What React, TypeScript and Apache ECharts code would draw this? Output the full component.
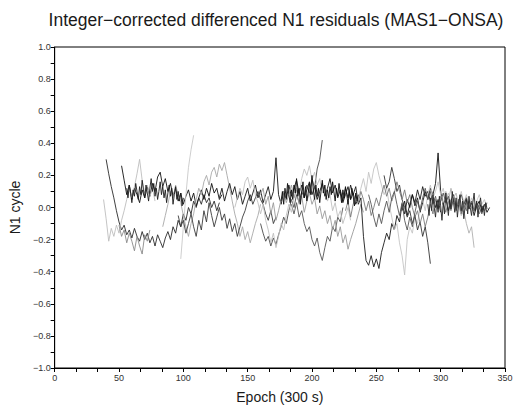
import React, { useEffect, useRef } from "react";
import * as echarts from "echarts";

// ---- Data ----
const xTicks = [0, 50, 100, 150, 200, 250, 300, 350];
const yTicks = [-1.0, -0.8, -0.6, -0.4, -0.2, 0.0, 0.2, 0.4, 0.6, 0.8, 1.0];

const arcAStart = 40;
const arcA = [0.30, 0.21, 0.13, 0.06, -0.02, -0.09, -0.14, -0.11, -0.17, -0.14, -0.19, -0.13, -0.18, -0.21, -0.15, -0.20, -0.16, -0.22, -0.18, -0.24, -0.17, -0.21, -0.25, -0.19, -0.15, -0.20, -0.12, -0.16, -0.08, -0.12, -0.04, -0.08, 0.00, -0.04, 0.04, 0.00, 0.06, 0.02, 0.08, 0.03, 0.06, 0.00, 0.04, -0.02, 0.03];
const arcBStart = 52;
const arcB = [0.26, 0.17, 0.08, 0.14, 0.05, 0.12, 0.08, 0.03, 0.11, 0.06, 0.13, 0.07, 0.15, 0.10, 0.19, 0.22, 0.13, 0.18, 0.10, 0.15, 0.07, 0.12, 0.04, 0.09, 0.02, 0.07, 0.11, 0.04, 0.09, 0.01, 0.06, 0.11, 0.05, 0.12, 0.07, 0.15, 0.09, 0.12, 0.05, 0.08];
const arcCStart = 38;
const arcC = [0.05, -0.07, -0.21, -0.13, -0.18, -0.11, -0.16, -0.08, -0.02, 0.05, 0.11, 0.06, 0.13, 0.21, 0.30, 0.17, 0.09, 0.14, 0.07, 0.12, 0.04];
const arcDStart = 50;
const arcD = [-0.11, -0.18, -0.14, -0.22, -0.16, -0.21, -0.27, -0.18, -0.24, -0.29, -0.17, -0.21, -0.14];
const arcEStart = 98;
const arcE = [-0.32, -0.12, 0.08, 0.25, 0.36, 0.45];
const arcFStart = 84;
const arcF = [-0.12, -0.05, 0.02, 0.10, 0.06, 0.14, 0.08, 0.03, -0.05, -0.12, -0.18, -0.10, -0.04, 0.05, 0.12, 0.08, 0.16, 0.20, 0.14, 0.22, 0.25, 0.19, 0.27, 0.23, 0.28, 0.20, 0.12, 0.04, -0.04, -0.10, -0.18, -0.12, -0.20, -0.15, -0.22, -0.16, -0.10, -0.05, 0.02];
const arcGStart = 96;
const arcG = [-0.05, -0.12, -0.08, -0.16, -0.10, -0.04, -0.12, -0.18, -0.08, -0.14, -0.02, -0.09, 0.03, -0.05, -0.12, -0.06, 0.00, -0.08, -0.04, -0.13, -0.07, -0.15, -0.10, -0.18, -0.12, -0.06, -0.02, 0.04, 0.08, 0.02, 0.06, 0.10, 0.05, 0.02, -0.04, -0.08, -0.02, -0.10, -0.06];
const arcHStart = 128;
const arcH = [0.06, 0.12, 0.04, 0.10, 0.15, 0.08, 0.13, 0.05, 0.10, 0.02, 0.07, 0.12, 0.04, 0.09, 0.14, 0.06, 0.11, 0.03, 0.08, 0.13, 0.05, 0.10, 0.31, 0.08, 0.02, 0.10, 0.05, 0.14, 0.07, 0.12, 0.17, 0.09, 0.14, 0.06, 0.11, 0.16, 0.08, 0.13, 0.05, 0.10, 0.15, 0.07, 0.12, 0.18, 0.09, 0.14, 0.06, 0.11, 0.03, 0.08, 0.13, 0.05, 0.09, 0.02, 0.06];
const arcIStart = 160;
const arcI = [-0.10, -0.16, -0.21, -0.18, -0.24, -0.19, -0.23, -0.17, -0.12, -0.06, -0.10, -0.02, 0.05, 0.00, 0.08, 0.03, 0.10, 0.06, 0.14, 0.09, 0.18, 0.12, 0.24, 0.30, 0.42];
const arcJStart = 184;
const arcJ = [0.02, -0.04, 0.03, -0.06, -0.02, -0.10, -0.15, -0.12, -0.20, -0.24, -0.19, -0.28, -0.33, -0.25, -0.18, -0.21, -0.12, -0.15, -0.06, -0.09, 0.00];
const arcKStart = 140;
const arcK = [0.00, 0.06, 0.12, 0.08, 0.16, 0.19, 0.12, 0.17, 0.08, 0.03, -0.04, 0.02, -0.08, -0.14, -0.22, -0.16, -0.25, -0.18, -0.10, -0.14, -0.05, 0.02, -0.03, 0.06, 0.12, 0.08, 0.18, 0.24, 0.20, 0.26, 0.17, 0.22, 0.14, 0.18, 0.09, 0.13, 0.04, 0.08, -0.02, 0.03, -0.06, -0.02, -0.10, -0.05, 0.00, -0.08];
const arcLStart = 160;
const arcL = [0.08, 0.12, 0.02, 0.07, -0.04, 0.03, -0.08, -0.02, 0.05, 0.10, 0.03, 0.08, 0.14, 0.06, 0.11, 0.02, 0.07, -0.03, 0.04, 0.09, 0.02, 0.06, -0.04, 0.01, -0.07, -0.02, -0.10, -0.05, -0.14, -0.08, -0.18, -0.12, -0.22, -0.17, -0.26, -0.20, -0.15, -0.10, -0.04, 0.02, -0.03];
const arcMStart = 222;
const arcM = [0.10, 0.04, 0.12, 0.06, 0.14, 0.08, 0.13, 0.02, 0.06, -0.18, -0.33, -0.36, -0.30, -0.37, -0.32, -0.38, -0.28, -0.22, -0.16, -0.20, -0.10, -0.14, -0.05, -0.09, 0.02, -0.04, 0.05, 0.00, 0.08, 0.03, 0.11, 0.05, 0.13, 0.07, 0.10, 0.04, 0.08, 0.00, 0.05, -0.03];
const arcNStart = 270;
const arcN = [-0.02, 0.04, -0.05, 0.02, 0.08, 0.01, 0.06, -0.03, 0.03, 0.10, 0.05, 0.12, 0.08, 0.15, 0.34, 0.10, 0.02, 0.06, -0.02, 0.04, 0.08, 0.00, 0.05, -0.04, 0.02, 0.06, -0.01, 0.03, -0.05, 0.01, 0.04, -0.02, 0.02, -0.03, 0.00];
const arcOStart = 236;
const arcO = [0.05, 0.12, 0.18, 0.10, 0.22, 0.15, 0.24, 0.28, 0.20, 0.14, 0.08, 0.12, 0.02, -0.06, -0.14, -0.10, -0.22, -0.30, -0.42, -0.20, -0.12, -0.16, -0.06, -0.10, 0.00, 0.05, -0.02, 0.08, 0.14, 0.06, 0.10, 0.16, 0.08, 0.12, 0.04, 0.09, 0.02, 0.07, -0.02, 0.04, 0.10, 0.03, 0.08, 0.01, 0.06, -0.01, 0.04, 0.08, 0.02, 0.05, 0.00];
const arcPStart = 256;
const arcP = [0.20, 0.12, 0.16, 0.25, 0.18, 0.10, 0.14, 0.05, 0.00, -0.06, -0.02, -0.10, -0.05, -0.14, -0.09, -0.18, -0.12, -0.22, -0.35];
const arcQStart = 226;
const arcQ = [-0.02, 0.04, -0.06, 0.02, 0.08, 0.03, 0.10, 0.05, -0.02, 0.04, -0.05, 0.00, 0.06, 0.01, 0.08, 0.14, 0.07, 0.12, 0.04, 0.09, 0.16, 0.10, 0.05, 0.11, 0.03, 0.08, 0.00, -0.06, -0.02, -0.10, -0.04, -0.12, -0.06, 0.02, -0.04, 0.05, 0.00, 0.07, 0.02, -0.03, 0.04, -0.02, 0.06, 0.00, 0.05, -0.04, 0.02, -0.02, 0.04, 0.00, -0.03, 0.02, -0.04, 0.01, -0.02, 0.03];
const arcRStart = 300;
const arcR = [0.08, 0.02, 0.10, 0.04, 0.12, 0.06, 0.09, 0.01, -0.05, -0.02, -0.10, -0.16, -0.12, -0.25];
const arcSStart = 244;
const arcS = [0.08, 0.02, -0.06, -0.12, -0.04, -0.10, -0.02, 0.04, -0.03, 0.06, 0.10, 0.02, -0.05, 0.03, -0.08, -0.14, -0.06, -0.12, -0.03, 0.04, -0.02, 0.06, 0.12, 0.05, 0.10, 0.02, 0.07, -0.01, 0.04, 0.09, 0.03, 0.07, 0.00, 0.05, -0.02, 0.04, 0.08, 0.02, 0.06, 0.00, 0.04, -0.02, 0.03, 0.00, -0.04, 0.02];
// arcs sampled every epoch
const arcTStart = 176;
const arcT = [0.04, 0.10, 0.02, 0.12, 0.06, 0.15, 0.08, 0.03, 0.11, 0.05, 0.14, 0.09, 0.18, 0.07, 0.12, 0.02, 0.10, 0.16, 0.06, 0.13, 0.04, 0.09, 0.15, 0.08, 0.20, 0.11, 0.05, 0.14, 0.07, 0.12, 0.03, 0.10, 0.17, 0.09, 0.14, 0.05, 0.11, 0.06, 0.13, 0.08, 0.16, 0.10, 0.04, 0.12, 0.07, 0.15, 0.09, 0.03, 0.11, 0.06, 0.13, 0.08, 0.02, 0.10, 0.05, 0.12, 0.07, 0.01, 0.09, 0.04, 0.08];
const arcUStart = 290;
const arcU = [0.02, -0.05, 0.06, -0.02, 0.08, 0.00, -0.06, 0.04, -0.03, 0.07, 0.01, -0.08, 0.03, -0.04, 0.09, 0.02, -0.05, 0.05, -0.01, 0.10, 0.03, -0.03, 0.06, -0.06, 0.02, 0.08, -0.02, 0.04, -0.07, 0.01, 0.05, -0.04, 0.07, 0.00, -0.05, 0.03, 0.09, -0.02, 0.04, -0.06, 0.02, 0.06, -0.03, 0.01, -0.05, 0.03, -0.01];
const arcVStart = 56;
const arcV = [0.12, 0.06, 0.14, 0.09, 0.03, 0.11, 0.07, 0.15, 0.10, 0.05, 0.13, 0.08, 0.17, 0.11, 0.06, 0.14, 0.09, 0.04, 0.12, 0.18, 0.10, 0.15, 0.07, 0.12, 0.05, 0.10, 0.16, 0.08, 0.13, 0.06, 0.11, 0.03, 0.09, 0.14, 0.07, 0.12, 0.02, 0.08, 0.13, 0.05, 0.10, 0.04, 0.09, 0.01, 0.06];

const arcStarts = [arcAStart, arcBStart, arcCStart, arcDStart, arcEStart, arcFStart, arcGStart, arcHStart, arcIStart, arcJStart, arcKStart, arcLStart, arcMStart, arcNStart, arcOStart, arcPStart, arcQStart, arcRStart, arcSStart, arcTStart, arcUStart, arcVStart];
const arcSteps = [2, 2, 2, 2, 2, 2, 2, 2, 2, 2, 2, 2, 2, 2, 2, 2, 2, 2, 2, 1, 1, 1];
const arcValues = [arcA, arcB, arcC, arcD, arcE, arcF, arcG, arcH, arcI, arcJ, arcK, arcL, arcM, arcN, arcO, arcP, arcQ, arcR, arcS, arcT, arcU, arcV];

// ---- Styles ----
const arcColors = ["#2a2a2a", "#111111", "#bdbdbd", "#8a8a8a", "#c8c8c8", "#a8a8a8", "#3a3a3a", "#151515", "#4a4a4a", "#555555", "#c0c0c0", "#9a9a9a", "#1a1a1a", "#111111", "#c4c4c4", "#333333", "#7a7a7a", "#b0b0b0", "#555555", "#0d0d0d", "#262626", "#1c1c1c"];
const FONT = "'Liberation Sans', Arial, Helvetica, sans-serif";

const fmt = (v: number) => {
  if (Math.abs(v) < 1e-9) return "0.0";
  const s = v.toFixed(1);
  return s.replace("-", "\u2212");
};

export default function App() {
  const ref = useRef<HTMLDivElement>(null);
  useEffect(() => {
    document.body.style.margin = "0";
    const chart = echarts.init(ref.current!, null, { renderer: "svg" });
    const series = arcValues.map((vals, i) => ({
      type: "line",
      name: "arc" + (i + 1),
      data: vals.map((v, j) => [arcStarts[i] + j * arcSteps[i], v]),
      showSymbol: false,
      symbol: "none",
      lineStyle: { color: arcColors[i], width: 0.9 },
      itemStyle: { color: arcColors[i] },
      z: 2,
    }));
    chart.setOption({
      animation: false,
      backgroundColor: "#ffffff",
      graphic: [
        {
          type: "text",
          x: 276,
          y: 20,
          style: {
            text: "Integer\u2212corrected differenced N1 residuals (MAS1\u2212ONSA)",
            align: "center",
            verticalAlign: "middle",
            font: `17.5px ${FONT}`,
            fill: "#1a1a1a",
          },
        },
      ],
      grid: {
        left: 51,
        top: 47,
        right: 14,
        bottom: 42,
        show: true,
        borderColor: "#000",
        borderWidth: 1,
        backgroundColor: "#fff",
      },
      xAxis: {
        type: "value",
        min: xTicks[0],
        max: xTicks[xTicks.length - 1],
        interval: 50,
        name: "Epoch (300 s)",
        nameLocation: "middle",
        nameGap: 22,
        nameTextStyle: { fontSize: 14, color: "#1a1a1a", fontFamily: FONT },
        axisLine: { show: true, onZero: false, lineStyle: { color: "#000", width: 1 } },
        axisTick: { show: true, inside: false, length: 4, lineStyle: { color: "#000" } },
        minorTick: { show: true, splitNumber: 3, length: 4, lineStyle: { color: "#000" } },
        splitLine: { show: false },
        axisLabel: { fontSize: 9, color: "#333", margin: 5, fontFamily: FONT },
      },
      yAxis: {
        type: "value",
        min: yTicks[0],
        max: yTicks[yTicks.length - 1],
        interval: 0.2,
        name: "N1 cycle",
        nameLocation: "middle",
        nameGap: 27,
        nameRotate: 90,
        nameTextStyle: { fontSize: 14, color: "#1a1a1a", fontFamily: FONT },
        axisLine: { show: true, onZero: false, lineStyle: { color: "#000", width: 1 } },
        axisTick: { show: true, inside: false, length: 4, lineStyle: { color: "#000" } },
        minorTick: { show: true, splitNumber: 2, length: 4, lineStyle: { color: "#000" } },
        splitLine: { show: false },
        axisLabel: { fontSize: 9, color: "#333", margin: 4, fontFamily: FONT, formatter: fmt },
      },
      series,
    });
    return () => chart.dispose();
  }, []);
  return <div ref={ref} style={{ width: 519, height: 410 }} />;
}
